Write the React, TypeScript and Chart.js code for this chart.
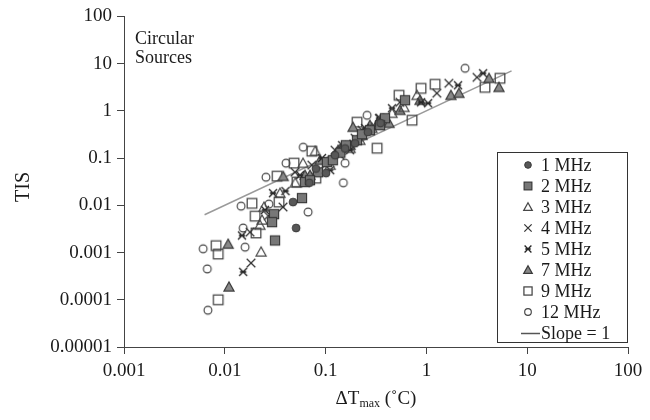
import React, { useEffect, useRef } from 'react';
import { Chart, registerables } from 'chart.js';

Chart.register(...registerables);

// ---- axis ticks ----
const X_TICKS = [0.001, 0.01, 0.1, 1, 10, 100];
const X_TICK_LABELS = ['0.001', '0.01', '0.1', '1', '10', '100'];
const Y_TICKS = [0.00001, 0.0001, 0.001, 0.01, 0.1, 1, 10, 100];
const Y_TICK_LABELS = ['0.00001', '0.0001', '0.001', '0.01', '0.1', '1', '10', '100'];

// ---- series (ΔTmax °C, TIS) ----
const MHZ1: [number, number][] = [
  [0.051, 0.0033], [0.0475, 0.0117], [0.101, 0.048], [0.124, 0.115], [0.196, 0.206],
  [0.263, 0.353], [0.156, 0.16], [0.08, 0.06], [0.35, 0.55], [0.069, 0.03],
];
const MHZ2: [number, number][] = [
  [0.0308, 0.0065], [0.0294, 0.0044], [0.0315, 0.0018], [0.0583, 0.0142], [0.0625, 0.031],
  [0.103, 0.082], [0.084, 0.05], [0.118, 0.09], [0.159, 0.187], [0.205, 0.239],
  [0.275, 0.389], [0.388, 0.698], [0.614, 1.68], [0.23, 0.32], [0.14, 0.13],
  [0.07, 0.034], [0.347, 0.497],
];
const MHZ3: [number, number][] = [
  [0.0229, 0.00103], [0.0245, 0.0092], [0.0234, 0.0049], [0.0223, 0.0038], [0.0597, 0.078],
  [0.0353, 0.0181], [0.079, 0.14], [0.807, 2.14], [0.6, 1.19], [0.111, 0.071],
  [0.175, 0.162], [0.288, 0.43], [0.456, 0.89], [0.05, 0.03], [0.139, 0.147],
  [0.219, 0.239], [0.347, 0.633],
];
const MHZ4: [number, number][] = [
  [0.0182, 0.0006], [0.0178, 0.0027], [0.0378, 0.0092], [0.0497, 0.0504], [0.23, 0.389],
  [1.27, 2.36], [1.67, 3.84], [3.18, 5.13], [0.073, 0.071], [0.124, 0.147],
  [0.196, 0.264], [0.347, 0.698], [0.547, 1.52], [0.027, 0.006], [0.088, 0.0555],
  [0.139, 0.115], [0.275, 0.389],
];
const MHZ5: [number, number][] = [
  [0.0152, 0.00039], [0.0148, 0.0023], [0.0301, 0.0181], [0.884, 1.52], [1.04, 1.45],
  [2.06, 3.48], [3.65, 6.24], [0.339, 0.698], [0.0557, 0.0435], [0.092, 0.1],
  [0.146, 0.187], [0.246, 0.43], [0.456, 1.135], [0.025, 0.008], [0.111, 0.0555],
  [0.175, 0.147], [0.04, 0.02],
];
const MHZ7: [number, number][] = [
  [0.0108, 0.00151], [0.011, 0.000187], [0.0625, 0.0435], [0.038, 0.041], [0.187, 0.45],
  [0.426, 0.547], [1.75, 2.14], [2.1, 2.36], [4.18, 4.89], [5.25, 3.15],
  [0.088, 0.09], [0.133, 0.147], [0.23, 0.305], [0.331, 0.574], [0.865, 1.68],
  [0.07, 0.0435], [0.175, 0.187], [0.275, 0.497], [0.547, 1.03],
];
const MHZ9: [number, number][] = [
  [0.0082, 0.0014], [0.0086, 0.00093], [0.0086, 0.0001], [0.0186, 0.011], [0.02, 0.0059],
  [0.0204, 0.0026], [0.0345, 0.0117], [0.033, 0.0414], [0.0486, 0.078], [0.08, 0.0376],
  [0.052, 0.031], [0.073, 0.14], [0.205, 0.574], [0.324, 0.162], [0.535, 2.14],
  [0.72, 0.633], [0.884, 3.0], [1.22, 3.65], [3.81, 3.15], [5.37, 4.89],
];
const MHZ12: [number, number][] = [
  [0.0061, 0.0012], [0.0067, 0.00045], [0.0068, 0.00006], [0.0159, 0.0013], [0.0145, 0.0096],
  [0.0152, 0.0033], [0.0274, 0.0106], [0.0256, 0.0394], [0.0405, 0.078], [0.067, 0.0072],
  [0.156, 0.078], [0.06, 0.17], [0.258, 0.807], [2.42, 7.96], [0.15, 0.03],
];
const SLOPE_X = [0.0063, 7];
const SLOPE_Y = [0.0063, 7];

const SERIES_NAMES = ['1 MHz', '2 MHz', '3 MHz', '4 MHz', '5 MHz', '7 MHz', '9 MHz', '12 MHz'];
const SERIES_DATA = [MHZ1, MHZ2, MHZ3, MHZ4, MHZ5, MHZ7, MHZ9, MHZ12];
const SERIES_MARKERS = ['fcircle', 'fsquare', 'otri', 'x', 'star', 'ftri', 'osquare', 'ocircle'];
const SLOPE_LABEL = 'Slope = 1';

const FONT = '"Liberation Serif", "Times New Roman", serif';

function makeMarker(kind: string, scale = 1): HTMLCanvasElement {
  const s = 16;
  const c = document.createElement('canvas');
  c.width = s;
  c.height = s;
  const ctx = c.getContext('2d')!;
  const m = s / 2;
  const k = scale;
  ctx.lineJoin = 'miter';
  switch (kind) {
    case 'fcircle':
      ctx.beginPath();
      ctx.arc(m, m, 3.9 * k, 0, Math.PI * 2);
      ctx.fillStyle = '#585858';
      ctx.fill();
      ctx.strokeStyle = '#383838';
      ctx.lineWidth = 1;
      ctx.stroke();
      break;
    case 'fsquare':
      ctx.fillStyle = '#777';
      ctx.fillRect(m - 4.6 * k, m - 4.6 * k, 9.2 * k, 9.2 * k);
      ctx.strokeStyle = '#333';
      ctx.lineWidth = 1.1;
      ctx.strokeRect(m - 4.6 * k, m - 4.6 * k, 9.2 * k, 9.2 * k);
      break;
    case 'otri':
    case 'ftri':
      ctx.beginPath();
      ctx.moveTo(m, m - 5 * k);
      ctx.lineTo(m + 5 * k, m + 4 * k);
      ctx.lineTo(m - 5 * k, m + 4 * k);
      ctx.closePath();
      if (kind === 'ftri') {
        ctx.fillStyle = '#888';
        ctx.fill();
        ctx.strokeStyle = '#3a3a3a';
      } else {
        ctx.strokeStyle = '#474747';
      }
      ctx.lineWidth = 1.25;
      ctx.stroke();
      break;
    case 'x':
      ctx.beginPath();
      ctx.moveTo(m - 4.3 * k, m - 4.3 * k);
      ctx.lineTo(m + 4.3 * k, m + 4.3 * k);
      ctx.moveTo(m + 4.3 * k, m - 4.3 * k);
      ctx.lineTo(m - 4.3 * k, m + 4.3 * k);
      ctx.strokeStyle = '#333';
      ctx.lineWidth = 1.25;
      ctx.stroke();
      break;
    case 'star':
      ctx.beginPath();
      ctx.moveTo(m - 4 * k, m - 4 * k);
      ctx.lineTo(m + 4 * k, m + 4 * k);
      ctx.moveTo(m + 4 * k, m - 4 * k);
      ctx.lineTo(m - 4 * k, m + 4 * k);
      ctx.moveTo(m - 3.2 * k, m);
      ctx.lineTo(m + 3.2 * k, m);
      ctx.strokeStyle = '#262626';
      ctx.lineWidth = 1.35;
      ctx.stroke();
      break;
    case 'osquare':
      ctx.strokeStyle = '#444';
      ctx.lineWidth = 1.25;
      ctx.strokeRect(m - 4.8 * k, m - 4.8 * k, 9.6 * k, 9.6 * k);
      break;
    case 'ocircle':
    default:
      ctx.beginPath();
      ctx.arc(m, m, 3.9 * k, 0, Math.PI * 2);
      ctx.strokeStyle = '#444';
      ctx.lineWidth = 1.15;
      ctx.stroke();
      break;
  }
  return c;
}

function tickLabel(ticks: number[], labels: string[], v: number): string {
  const i = ticks.findIndex((t) => Math.abs(Math.log10(t) - Math.log10(v)) < 1e-6);
  return i >= 0 ? labels[i] : '';
}

export default function App() {
  const ref = useRef<HTMLCanvasElement | null>(null);

  useEffect(() => {
    const canvas = ref.current;
    if (!canvas) return;
    const markers = SERIES_MARKERS.map((k) => makeMarker(k));
    const legendMarkers = SERIES_MARKERS.map((k) => makeMarker(k, 0.85));

    const overlay = {
      id: 'overlay',
      afterDraw(chart: any) {
        const ctx = chart.ctx as CanvasRenderingContext2D;
        ctx.save();
        ctx.fillStyle = '#1a1a1a';
        ctx.textAlign = 'left';
        ctx.textBaseline = 'alphabetic';
        // annotation
        ctx.font = `18px ${FONT}`;
        ctx.fillText('Circular', 135, 44);
        ctx.fillText('Sources', 135, 63);

        // y title
        ctx.save();
        ctx.translate(29, 187);
        ctx.rotate(-Math.PI / 2);
        ctx.font = `20px ${FONT}`;
        ctx.textAlign = 'center';
        ctx.fillText('TIS', 0, 0);
        ctx.restore();

        // x title with subscript
        const mainF = `19px ${FONT}`;
        const subF = `12px ${FONT}`;
        const p1 = '\u0394T';
        const p2 = 'max';
        const p3 = ' (\u02DAC)';
        ctx.font = mainF;
        const w1 = ctx.measureText(p1).width;
        const w3 = ctx.measureText(p3).width;
        ctx.font = subF;
        const w2 = ctx.measureText(p2).width;
        const area = chart.chartArea;
        let x0 = (area.left + area.right) / 2 - (w1 + w2 + w3) / 2;
        const base = 404;
        ctx.font = mainF;
        ctx.fillText(p1, x0, base);
        x0 += w1;
        ctx.font = subF;
        ctx.fillText(p2, x0, base + 3);
        x0 += w2;
        ctx.font = mainF;
        ctx.fillText(p3, x0, base);

        // legend box
        const bx = 497.5, by = 152.5, bw = 130, bh = 190;
        ctx.fillStyle = '#ffffff';
        ctx.fillRect(bx, by, bw, bh);
        ctx.strokeStyle = '#333';
        ctx.lineWidth = 1;
        ctx.strokeRect(bx, by, bw, bh);
        ctx.fillStyle = '#1a1a1a';
        ctx.font = `18px ${FONT}`;
        ctx.textBaseline = 'middle';
        const rowH = 21;
        SERIES_NAMES.forEach((name, i) => {
          const y = 165 + i * rowH;
          const mk = legendMarkers[i];
          ctx.drawImage(mk, 528 - mk.width / 2, y - mk.height / 2);
          ctx.fillText(name, 541, y + 1);
        });
        const ly = 165 + SERIES_NAMES.length * rowH;
        ctx.beginPath();
        ctx.moveTo(521, ly + 0.5);
        ctx.lineTo(540, ly + 0.5);
        ctx.strokeStyle = '#555';
        ctx.lineWidth = 1.5;
        ctx.stroke();
        ctx.fillText(SLOPE_LABEL, 541, ly + 1);
        ctx.restore();
      },
    };

    const datasets: any[] = SERIES_DATA.map((pts, i) => ({
      label: SERIES_NAMES[i],
      data: pts.map(([x, y]) => ({ x, y })),
      pointStyle: markers[i],
      pointRadius: 5,
      showLine: false,
      order: 1,
    }));
    datasets.push({
      type: 'line',
      label: SLOPE_LABEL,
      data: SLOPE_X.map((x, i) => ({ x, y: SLOPE_Y[i] })),
      borderColor: '#9a9a9a',
      borderWidth: 1.5,
      pointRadius: 0,
      showLine: true,
      fill: false,
      order: 2,
    });

    const tickFont = { family: FONT, size: 19 };

    const chart = new Chart(canvas, {
      type: 'scatter',
      data: { datasets },
      options: {
        animation: false,
        responsive: false,
        devicePixelRatio: 1,
        layout: { padding: { left: 0, right: 22, top: 16, bottom: 0 } },
        plugins: {
          legend: { display: false },
          tooltip: { enabled: false },
        },
        scales: {
          x: {
            type: 'logarithmic',
            min: 0.001,
            max: 100,
            afterBuildTicks: (s: any) => {
              s.ticks = X_TICKS.map((v) => ({ value: v }));
            },
            afterFit: (s: any) => {
              s.height = 73;
            },
            ticks: {
              autoSkip: false,
              maxRotation: 0,
              minRotation: 0,
              padding: 6,
              color: '#1a1a1a',
              font: tickFont,
              callback: (v: any) => tickLabel(X_TICKS, X_TICK_LABELS, Number(v)),
            },
            grid: { drawOnChartArea: false, drawTicks: true, tickLength: 7, color: '#444' },
            border: { display: true, color: '#444', width: 1 },
          },
          y: {
            type: 'logarithmic',
            min: 0.00001,
            max: 100,
            afterBuildTicks: (s: any) => {
              s.ticks = Y_TICKS.map((v) => ({ value: v }));
            },
            afterFit: (s: any) => {
              s.width = 124;
            },
            ticks: {
              autoSkip: false,
              padding: 5,
              color: '#1a1a1a',
              font: tickFont,
              callback: (v: any) => tickLabel(Y_TICKS, Y_TICK_LABELS, Number(v)),
            },
            grid: { drawOnChartArea: false, drawTicks: true, tickLength: 7, color: '#444' },
            border: { display: true, color: '#444', width: 1 },
          },
        },
      } as any,
      plugins: [overlay],
    });

    return () => {
      chart.destroy();
    };
  }, []);

  return (
    <div style={{ position: 'fixed', left: 0, top: 0, width: 650, height: 420, background: '#fff' }}>
      <canvas ref={ref} width={650} height={420} style={{ width: 650, height: 420, display: 'block' }} />
    </div>
  );
}
